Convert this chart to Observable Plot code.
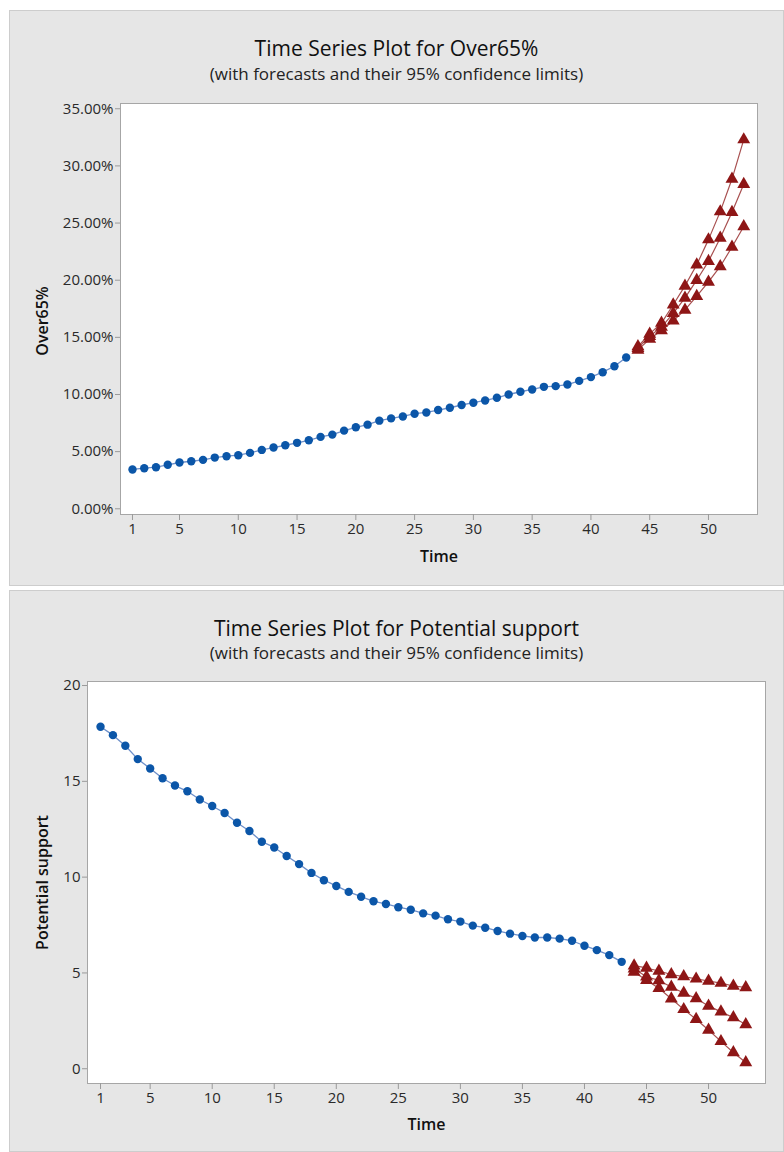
<!DOCTYPE html>
<html>
<head>
<meta charset="utf-8">
<script src="https://cdn.jsdelivr.net/npm/d3@7"></script>
<script src="https://cdn.jsdelivr.net/npm/@observablehq/plot@0.6"></script>
<style>
  html, body { margin: 0; padding: 0; background: #ffffff; }
  body { width: 784px; height: 1152px; position: relative; overflow: hidden; font-family: "Open Sans", "Noto Sans", sans-serif; }
  .panel { position: absolute; left: 9px; width: 775px; background: #e6e6e6; box-shadow: inset 0 0 0 1px #cdcdcd; }
  .title { position: absolute; left: 0; width: 775px; text-align: center; font-size: 21px; line-height: 28px; color: #111; }
  .sub { position: absolute; left: 0; width: 775px; text-align: center; font-size: 17px; line-height: 22px; color: #222; }
  .chart { position: absolute; left: 0; top: 80px; }
</style>
</head>
<body>
<div class="panel" id="p1" style="top:10px;height:576px;">
  <div class="title" style="top:24px;">Time Series Plot for Over65%</div>
  <div class="sub" style="top:53px;">(with forecasts and their 95% confidence limits)</div>
  <div class="chart" id="c1"></div>
</div>
<div class="panel" id="p2" style="top:590px;height:562px;">
  <div class="title" style="top:24px;">Time Series Plot for Potential support</div>
  <div class="sub" style="top:52px;">(with forecasts and their 95% confidence limits)</div>
  <div class="chart" id="c2"></div>
</div>
<script>
// ---------- data ----------
const xTicks = [1, 5, 10, 15, 20, 25, 30, 35, 40, 45, 50];

const timeActual = d3.range(1, 44);      // 1..43
const timeForecast = d3.range(44, 54);   // 44..53

// Over65% (percent)
const over65 = [3.44, 3.55, 3.64, 3.85, 4.05, 4.16, 4.28, 4.48, 4.60, 4.69,
                4.89, 5.15, 5.36, 5.56, 5.77, 5.99, 6.29, 6.49, 6.84, 7.13,
                7.36, 7.71, 7.91, 8.08, 8.32, 8.43, 8.64, 8.84, 9.08, 9.28,
                9.48, 9.71, 10.00, 10.24, 10.44, 10.67, 10.73, 10.87, 11.19, 11.52,
                11.95, 12.47, 13.24];
const over65Upper    = [14.20, 15.30, 16.25, 17.85, 19.50, 21.35, 23.55, 26.00, 28.85, 32.30];
const over65Forecast = [14.05, 15.10, 15.90, 17.10, 18.45, 20.00, 21.65, 23.70, 25.95, 28.40];
const over65Lower    = [13.90, 14.85, 15.60, 16.45, 17.40, 18.60, 19.85, 21.20, 22.90, 24.70];
const over65Ticks = [0, 5, 10, 15, 20, 25, 30, 35];

// Potential support
const support = [17.85, 17.41, 16.86, 16.16, 15.67, 15.16, 14.78, 14.48, 14.05, 13.71,
                 13.35, 12.84, 12.41, 11.85, 11.55, 11.10, 10.68, 10.22, 9.84, 9.54,
                 9.23, 8.98, 8.74, 8.60, 8.43, 8.30, 8.11, 7.99, 7.80, 7.68,
                 7.47, 7.36, 7.19, 7.05, 6.93, 6.85, 6.85, 6.79, 6.68, 6.42,
                 6.19, 5.93, 5.58];
const supportUpper    = [5.38, 5.26, 5.10, 4.92, 4.81, 4.69, 4.58, 4.47, 4.32, 4.24];
const supportForecast = [5.22, 4.80, 4.61, 4.27, 3.95, 3.67, 3.28, 2.97, 2.67, 2.31];
const supportLower    = [5.05, 4.62, 4.20, 3.65, 3.10, 2.58, 2.02, 1.43, 0.85, 0.33];
const supportTicks = [0, 5, 10, 15, 20];

// ---------- styles ----------
const blueDot = "#0b56a8";
const blueLine = "#6d8fc9";
const redTri = "#8e1616";
const redLine = "#a85050";
const tickText = "#2a2a2a";
const tickLine = "#9a9a9a";

function build(cfg) {
  const actual = cfg.actual.map((v, i) => ({t: timeActual[i], v}));
  const fc = [];
  [["upper", cfg.upper], ["forecast", cfg.forecast], ["lower", cfg.lower]].forEach(([s, arr]) => {
    arr.forEach((v, i) => fc.push({t: timeForecast[i], v, s}));
  });
  return Plot.plot({
    width: 775,
    height: cfg.height,
    marginLeft: cfg.ml, marginRight: cfg.mr, marginTop: cfg.mt, marginBottom: cfg.mb,
    style: {background: "transparent", fontFamily: "'Open Sans', 'Noto Sans', sans-serif", fontSize: "15px", overflow: "visible"},
    x: {domain: cfg.xDomain},
    y: {domain: cfg.yDomain},
    marks: [
      Plot.frame({fill: "white", stroke: "#a6a6a6"}),
      Plot.axisX({ticks: xTicks, tickSize: 6, tickPadding: 3, stroke: tickLine, fill: tickText, label: null, fontSize: 15}),
      Plot.axisY({ticks: cfg.yTicks, tickFormat: cfg.yFormat, tickSize: 5, tickPadding: 2, stroke: tickLine, fill: tickText, label: null, fontSize: 15}),
      Plot.line(actual, {x: "t", y: "v", stroke: blueLine, strokeWidth: 1.3}),
      Plot.dot(actual, {x: "t", y: "v", r: 4.2, fill: blueDot, stroke: null}),
      Plot.line(fc, {x: "t", y: "v", z: "s", stroke: redLine, strokeWidth: 1.2}),
      Plot.dot(fc, {x: "t", y: "v", symbol: "triangle", r: 4.8, fill: redTri, stroke: null}),
      Plot.text(["Time"], {frameAnchor: "bottom", dy: cfg.xLabelDy, fontSize: 16, fontWeight: 600, fill: "#111"}),
      Plot.text([cfg.yLabel], {frameAnchor: "left", textAnchor: "middle", lineAnchor: "middle", dx: cfg.yLabelDx, dy: cfg.yLabelDy, rotate: -90, fontSize: 16, fontWeight: 600, fill: "#111"})
    ]
  });
}

document.getElementById("c1").appendChild(build({
  actual: over65, upper: over65Upper, forecast: over65Forecast, lower: over65Lower,
  height: 490, ml: 111, mr: 27, mt: 13, mb: 66,
  xDomain: [-0.02, 54.17], yDomain: [-0.5, 35.46],
  yTicks: over65Ticks, yFormat: d => d.toFixed(2) + "%",
  xLabelDy: 47, yLabel: "Over65%", yLabelDx: -78, yLabelDy: 12
}));

document.getElementById("c2").appendChild(build({
  actual: support, upper: supportUpper, forecast: supportForecast, lower: supportLower,
  height: 480, ml: 78, mr: 19, mt: 11, mb: 67,
  xDomain: [-0.05, 54.59], yDomain: [-0.77, 20.21],
  yTicks: supportTicks, yFormat: d => String(d),
  xLabelDy: 46, yLabel: "Potential support", yLabelDx: -45, yLabelDy: 0
}));
</script>
</body>
</html>
